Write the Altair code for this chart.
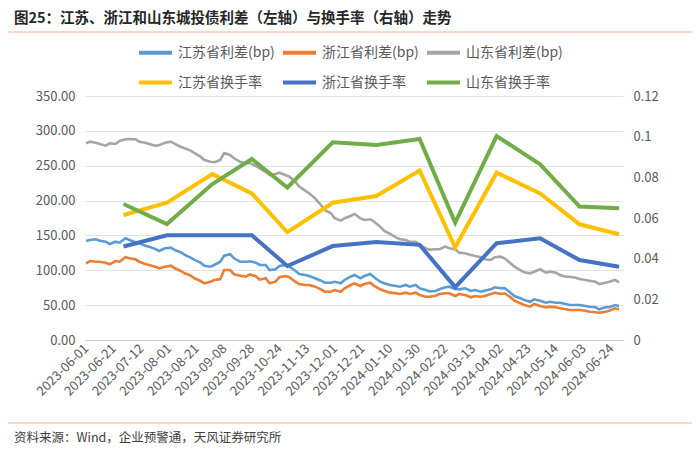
import altair as alt
import pandas as pd

# ---------------- data ----------------
tick_labels = ["2023-06-01", "2023-06-21", "2023-07-12", "2023-08-01", "2023-08-21",
               "2023-09-08", "2023-09-28", "2023-10-24", "2023-11-13", "2023-12-01",
               "2023-12-21", "2024-01-10", "2024-01-30", "2024-02-22", "2024-03-13",
               "2024-04-02", "2024-04-23", "2024-05-14", "2024-06-03", "2024-06-24"]
tick_days = [0, 14, 28, 42, 56, 70, 84, 98, 112, 126, 140, 154, 168, 182, 196,
             210, 224, 238, 252, 266]

# trading-day index of each sampled spread reading
spread_days = [0, 2, 5, 7, 10, 12, 15, 17, 20, 22, 25, 27, 30, 32, 35, 37, 40, 43, 45, 48,
               50, 53, 55, 58, 60, 63, 65, 68, 70, 73, 75, 78, 81, 83, 86, 88, 91, 93, 96, 98,
               101, 103, 106, 108, 111, 113, 116, 119, 121, 124, 126, 129, 131, 134, 136, 139,
               141, 144, 146, 149, 151, 154, 157, 159, 162, 164, 167, 169, 172, 174, 177, 179,
               182, 184, 187, 189, 192, 195, 197, 200, 202, 205, 207, 210, 212, 215, 217, 220,
               222, 225, 227, 230, 233, 235, 238, 240, 243, 245, 248, 250, 253, 255, 258, 260,
               263, 265, 268, 270]

jiangsu_spread = [142, 143.5, 144.5, 142.5, 141, 137.7, 141, 139.6, 145.9, 143.5, 140.2, 138.7,
                  135.3, 133.9, 130.6, 127.7, 131.6, 132.4, 129.1, 125.8, 122, 118.1, 114.8,
                  110.9, 106.6, 105.2, 107.6, 112.3, 120.9, 123, 117.2, 112.3, 112.3, 113, 111,
                  107.6, 107.6, 100.4, 101.4, 106.2, 107.6, 105.2, 99.4, 94.7, 93.3, 91.8, 88.5,
                  85.1, 82.2, 82.2, 83.6, 81.3, 86.1, 90.8, 93.3, 88.5, 91.8, 94.7, 90, 83.6,
                  81.3, 78.9, 77.5, 76.5, 78.9, 76.5, 78.9, 74.2, 71.7, 69.8, 70.3, 72.7, 75.6,
                  76.5, 73.2, 72.7, 74.2, 70.3, 71.7, 69.3, 70.7, 72.7, 75.6, 74.2, 74.6, 67.9,
                  63.1, 59.8, 57.4, 54.9, 58.4, 56.4, 53.5, 54.9, 53.5, 53.5, 51.6, 50.2, 50.2,
                  50.2, 48.8, 47.8, 46.9, 44, 46.9, 46.9, 50.2, 48.8]

zhejiang_spread = [110, 113.3, 112.3, 112.3, 110.9, 108.6, 113.3, 112.3, 118.7, 117.2, 115.8,
                   112.3, 109, 107.6, 105.2, 102.9, 105.2, 106.6, 102.9, 99, 95.7, 92.3, 88.5,
                   84.6, 81.3, 83.6, 86.1, 87.5, 100.4, 100.4, 94.3, 92.3, 90.8, 94, 91.5, 86.5,
                   88.5, 81.3, 83.6, 90, 91.8, 90, 83.6, 80.3, 78.9, 78.9, 76.5, 72.7, 69.3,
                   69.3, 71.7, 69.3, 74.2, 78.9, 81.3, 77.5, 80.3, 82.2, 77.5, 72.7, 70.7, 67.9,
                   67, 66, 67.9, 66, 67.9, 64.6, 62.1, 62, 63.6, 66, 67, 67, 63.1, 66, 64.6, 61.3,
                   63.1, 62.1, 63.1, 66, 67.9, 66, 67, 61.3, 56.4, 52.7, 50.2, 47.8, 51.6, 48.8,
                   46.9, 47.8, 46.9, 45.5, 44, 43, 43, 43, 42, 40.6, 39.7, 39.2, 40.6, 42, 45.5, 44]

shandong_spread = [282.2, 284.5, 283, 281.2, 278.8, 282.2, 281.2, 285.5, 288, 288.4, 288, 284.5,
                   283, 281.2, 278.8, 279.3, 283, 284.5, 281.2, 277.3, 275, 271.6, 267.9, 263,
                   258.2, 255.8, 255, 258.2, 268, 265.4, 260.7, 255.8, 253.5, 254, 249.6, 246,
                   241, 237, 238, 240, 236.7, 234.3, 227.1, 220, 214.2, 210.5, 203.3, 193.7,
                   186.5, 181.8, 174.6, 171.2, 174.6, 177.9, 180.8, 174.6, 172.2, 173.2, 169.7,
                   162.6, 156.8, 152.1, 147.3, 144.5, 143.5, 141, 141, 136.3, 131.6, 129.6, 130.1,
                   130.1, 133.9, 131.6, 130.1, 125.3, 124.4, 121.9, 120.5, 118.7, 115.8, 114.8,
                   118.7, 119.5, 117.2, 110, 105.2, 100.4, 97.1, 95.7, 98, 101.4, 96.6, 98, 96.6,
                   93.3, 90.8, 90.8, 89.4, 87.5, 86.1, 85.1, 83.6, 80.3, 82.2, 83.6, 86.1, 82.8]

# month-end trading-day index of each turnover reading
month_days = [19, 41, 64, 84, 102, 125, 147, 169, 187, 208, 230, 250, 270]
jiangsu_turnover = [0.0615, 0.0675, 0.0816, 0.0721, 0.0530, 0.0675, 0.0708, 0.0833, 0.0456,
                    0.0823, 0.0721, 0.0569, 0.0520]
zhejiang_turnover = [0.0460, 0.0515, 0.0515, 0.0515, 0.0364, 0.0462, 0.0482, 0.0468, 0.0260,
                     0.0476, 0.0500, 0.0393, 0.0360]
shandong_turnover = [0.0669, 0.0570, 0.0767, 0.0890, 0.0750, 0.0972, 0.0959, 0.0989, 0.0577,
                     0.1003, 0.0864, 0.0656, 0.0648]

spread_names = ["江苏省利差(bp)", "浙江省利差(bp)", "山东省利差(bp)"]
turnover_names = ["江苏省换手率", "浙江省换手率", "山东省换手率"]
series_colors = ["#5B9BD5", "#ED7D31", "#A5A5A5", "#FFC000", "#4472C4", "#70AD47"]

title_text = "图25：江苏、浙江和山东城投债利差（左轴）与换手率（右轴）走势"
source_text = "资料来源：Wind，企业预警通，天风证券研究所"

# ---------------- tables ----------------
spread_rows = []
for name, vals in zip(spread_names, [jiangsu_spread, zhejiang_spread, shandong_spread]):
    for d, v in zip(spread_days, vals):
        spread_rows.append({"day": d, "series": name, "value": v})
spread_df = pd.DataFrame(spread_rows)

turn_rows = []
for name, vals in zip(turnover_names, [jiangsu_turnover, zhejiang_turnover, shandong_turnover]):
    for d, v in zip(month_days, vals):
        turn_rows.append({"day": d, "series": name, "rate": v})
turn_df = pd.DataFrame(turn_rows)

FONT = "Noto Sans CJK SC"
label_expr = "[" + ",".join("'%s'" % s for s in tick_labels) + "][round(datum.value / 14)]"

color_enc = alt.Color("series:N",
                      scale=alt.Scale(domain=spread_names + turnover_names, range=series_colors),
                      legend=alt.Legend(title=None))

x_enc = alt.X("day:Q",
              scale=alt.Scale(domain=[-0.5, 272], nice=False, zero=False),
              axis=alt.Axis(values=tick_days, labelExpr=label_expr, labelAngle=-45,
                            labelAlign="right", labelBaseline="middle", labelPadding=6,
                            grid=False, ticks=False, domain=True, domainColor="#D0D0D0",
                            domainWidth=1.2, labelFontSize=13, labelColor="#595959",
                            labelFont=FONT, title=None, labelOverlap=False))

spread_layer = alt.Chart(spread_df).mark_line(strokeWidth=2.6, interpolate="linear").encode(
    x=x_enc,
    y=alt.Y("value:Q",
            scale=alt.Scale(domain=[0, 350], nice=False),
            axis=alt.Axis(values=[0, 50, 100, 150, 200, 250, 300, 350], format=".2f",
                          orient="left", grid=True, gridColor="#E3E3E3", domain=False,
                          ticks=False, labelPadding=10, labelFontSize=13,
                          labelColor="#595959", labelFont=FONT, title=None)),
    color=color_enc,
    detail="series:N",
)

turn_layer = alt.Chart(turn_df).mark_line(strokeWidth=4, interpolate="linear").encode(
    x=x_enc,
    y=alt.Y("rate:Q",
            scale=alt.Scale(domain=[0, 0.12], nice=False),
            axis=alt.Axis(values=[0, 0.02, 0.04, 0.06, 0.08, 0.1, 0.12],
                          labelExpr="format(datum.value, '.2~f')",
                          orient="right", grid=False, domain=False, ticks=False,
                          labelPadding=10, labelFontSize=13, labelColor="#595959",
                          labelFont=FONT, title=None)),
    color=color_enc,
    detail="series:N",
)

title_layer = alt.Chart(pd.DataFrame({"t": [title_text]})).mark_text(
    align="left", baseline="middle", fontSize=14.5, fontWeight="bold", color="#262626", font=FONT
).encode(x=alt.value(-71), y=alt.value(-77), text="t:N")

source_layer = alt.Chart(pd.DataFrame({"t": [source_text]})).mark_text(
    align="left", baseline="middle", fontSize=12.5, color="#404040", font=FONT
).encode(x=alt.value(-71), y=alt.value(342), text="t:N")

top_sep = alt.Chart(pd.DataFrame({"k": [0]})).mark_rule(color="#F8CBAD", strokeWidth=1.5).encode(
    x=alt.value(-77), x2=alt.value(607), y=alt.value(-64))
bottom_sep = alt.Chart(pd.DataFrame({"k": [0]})).mark_rule(color="#F8CBAD", strokeWidth=1.5).encode(
    x=alt.value(-77), x2=alt.value(607), y=alt.value(327))

chart = alt.layer(spread_layer, turn_layer, title_layer, source_layer, top_sep, bottom_sep).resolve_scale(
    y="independent"
).properties(
    width=538, height=244,
    autosize=alt.AutoSizeParams(type="none"),
    padding={"left": 77, "top": 88, "right": 69, "bottom": 107},
).configure_view(strokeWidth=0).configure_legend(
    orient="none", legendX=52, legendY=-62, columns=3, direction="horizontal",
    symbolType="stroke", symbolSize=1089, symbolStrokeWidth=4,
    labelFontSize=14, labelColor="#595959", labelFont=FONT,
    columnPadding=0, rowPadding=3, labelOffset=4,
)

chart.save("out.html", embed_options={"renderer": "svg", "actions": False})
